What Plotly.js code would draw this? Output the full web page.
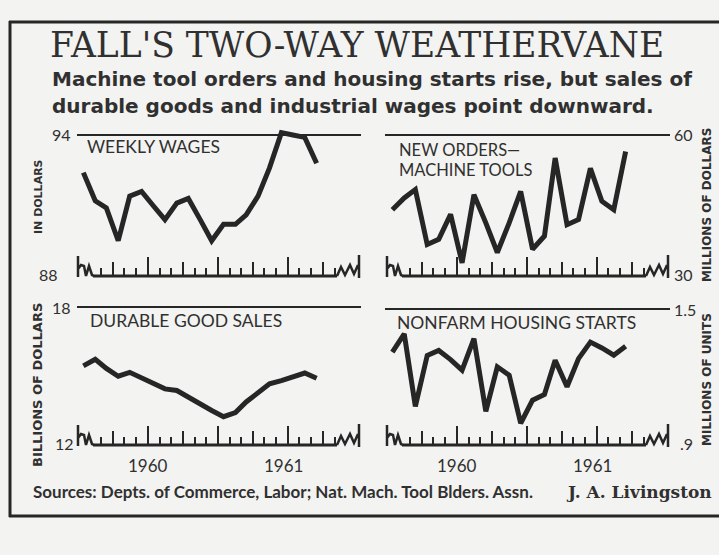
<!DOCTYPE html>
<html><head><meta charset="utf-8">
<script src="https://cdn.plot.ly/plotly-3.0.1.min.js"></script>
<style>html,body{margin:0;padding:0;background:#f3f3f1}</style>
</head><body><div id="chart" style="width:719px;height:555px"></div>
<script>
// ---- data (monthly, Jan 1960 - Sep 1961) ----
const months = ['1960-01-15','1960-02-15','1960-03-15','1960-04-15','1960-05-15','1960-06-15','1960-07-15','1960-08-15','1960-09-15','1960-10-15','1960-11-15','1960-12-15',
  '1961-01-15','1961-02-15','1961-03-15','1961-04-15','1961-05-15','1961-06-15','1961-07-15','1961-08-15','1961-09-15'];
const weeklyWages = [92.4, 91.2, 90.9, 89.5, 91.4, 91.6, 91.0, 90.4, 91.1, 91.3, 90.4, 89.5, 90.2, 90.2, 90.6, 91.4, 92.6, 94.1, 94.0, 93.9, 92.8];
const machineToolOrders = [44.1, 46.6, 48.4, 36.7, 37.8, 43.1, 32.8, 47.3, 41.3, 35.0, 41.3, 48.0, 35.7, 38.5, 55.1, 40.9, 42.0, 52.9, 45.9, 44.1, 56.5];
const durableSales = [15.44, 15.73, 15.33, 14.99, 15.16, 14.90, 14.64, 14.44, 14.37, 14.07, 13.79, 13.50, 13.23, 13.41, 13.87, 14.30, 14.66, 14.80, 14.94, 15.13, 14.90];
const housingStarts = [1.31, 1.39, 1.07, 1.295, 1.317, 1.277, 1.23, 1.369, 1.048, 1.245, 1.208, 0.996, 1.098, 1.123, 1.274, 1.157, 1.281, 1.354, 1.328, 1.296, 1.336];

const panelTitles = [['WEEKLY WAGES'], ['NEW ORDERS—', 'MACHINE TOOLS'], ['DURABLE GOOD SALES'], ['NONFARM HOUSING STARTS']];
const axisTitles = ['IN DOLLARS', 'MILLIONS OF DOLLARS', 'BILLIONS OF DOLLARS', 'MILLIONS OF UNITS'];
const lowLabels = ['88', '30', '12', '.9'];
const highLabels = ['94', '60', '18', '1.5'];
const lows = [88, 30, 12, 0.9];
const highs = [94, 60, 18, 1.5];
const yearLabels = ['1960', '1961'];
const yearPos = ['1960-07-01', '1961-06-20'];

const series = [weeklyWages, machineToolOrders, durableSales, housingStarts];

// ---- layout geometry (pixels) ----
const W = 719, H = 555;
const px = x => x / W, py = y => 1 - y / H;
const ink = '#262626', txt = '#303030';
// hx/lx: pixel x of label box edge (right edge for left panels, left edge for right panels)
const geo = [
  {x0: 78, x1: 358, base: 276, top: 135, side: 'left', tx: 7, ty: [147], tfs: 17.5, at: [39, 197, 11], hx: 73, lx: 60},
  {x0: 387, x1: 667, base: 276, top: 135, side: 'right', tx: 10, ty: [150, 170], tfs: 16.5, at: [707, 205, 12], hx: 672, lx: 672},
  {x0: 78, x1: 358, base: 445, top: 307, side: 'left', tx: 10, ty: [320], tfs: 17.5, at: [37, 385, 13], hx: 73, lx: 76},
  {x0: 387, x1: 667, base: 445, top: 309, side: 'right', tx: 8, ty: [322], tfs: 17.5, at: [707, 380, 12], hx: 672, lx: 678}
];

const monthTicks = [];
for (let y = 1960; y <= 1961; y++) for (let m = 1; m <= 12; m++) {
  if ((y === 1960 && m <= 2) || (y === 1961 && m === 12)) continue;
  monthTicks.push(y + '-' + String(m).padStart(2, '0') + '-01');
}
const quarterTicks = ['1960-04-01', '1960-10-01', '1961-04-01', '1961-10-01'];
const halfTicks = ['1960-07-01', '1961-01-01', '1961-07-01'];

const layout = {
  width: W, height: H, margin: {l: 0, r: 0, t: 0, b: 0},
  paper_bgcolor: '#f3f3f1', plot_bgcolor: 'rgba(0,0,0,0)',
  showlegend: false, shapes: [], annotations: []
};
const traces = [];
const padTop = 16;

geo.forEach((g, k) => {
  const i = k + 1;
  const lo = lows[k], hi = highs[k];
  const vpp = (hi - lo) / (g.base - g.top);
  const xa = i === 1 ? 'xaxis' : 'xaxis' + i;
  const ya = i === 1 ? 'yaxis' : 'yaxis' + i;
  const xr = i === 1 ? 'x' : 'x' + i;
  const yr = i === 1 ? 'y' : 'y' + i;
  layout[xa] = {
    type: 'date', domain: [px(g.x0), px(g.x1)], range: ['1960-01-01', '1962-01-01'],
    anchor: yr, showgrid: false, zeroline: false, showline: false, showticklabels: false,
    ticks: 'inside', tickmode: 'array', tickvals: quarterTicks, ticklen: 14, tickwidth: 2, tickcolor: ink,
    minor: {tickmode: 'array', tickvals: monthTicks, ticks: 'inside', ticklen: 8, tickwidth: 2, tickcolor: ink, showgrid: false},
    fixedrange: true
  };
  layout['xaxis' + (i + 4)] = {
    type: 'date', domain: [px(g.x0), px(g.x1)], range: ['1960-01-01', '1962-01-01'],
    overlaying: xr, anchor: yr, showgrid: false, zeroline: false, showline: false, showticklabels: false,
    ticks: 'inside', tickmode: 'array', tickvals: halfTicks, ticklen: 19, tickwidth: 2, tickcolor: ink, fixedrange: true
  };
  layout[ya] = {
    domain: [py(g.base), py(g.top - padTop)], range: [lo, hi + padTop * vpp],
    anchor: xr, showgrid: false, zeroline: false, showline: false, showticklabels: false, ticks: '', fixedrange: true
  };
  traces.push({type: 'scatter', mode: 'lines', x: months, y: series[k], xaxis: xr, yaxis: yr,
    line: {color: ink, width: 5}, hoverinfo: 'skip'});
  traces.push({type: 'scatter', mode: 'lines', x: [months[0]], y: [lo], xaxis: 'x' + (i + 4), yaxis: yr,
    line: {color: 'rgba(0,0,0,0)', width: 0}, hoverinfo: 'skip'});

  // top reference line
  const tl = g.side === 'left' ? [g.x0 - 1, g.x1 + 3] : [g.x0 - 2, g.x1 + 3];
  layout.shapes.push({type: 'line', xref: 'paper', yref: yr, x0: px(tl[0]), x1: px(tl[1]), y0: hi, y1: hi,
    line: {color: ink, width: 2}});
  // baseline
  const b = g.base;
  layout.shapes.push({type: 'line', xref: 'paper', yref: 'paper', x0: px(g.x0 + 15), x1: px(g.x1 - 21), y0: py(b), y1: py(b),
    line: {color: ink, width: 3}});
  // break marks
  const P = (pts) => pts.map(p => p[0] + ' ' + px(p[1]) + ' ' + py(p[2])).join(' ');
  const L = g.x0, R = g.x1;
  const leftBreak = P([['M', L, b - 20], ['L', L, b + 1], ['M', L, b - 7], ['L', L + 3, b - 11], ['L', L + 6, b - 10], ['L', L + 8, b],
    ['L', L + 11, b - 10], ['L', L + 14, b - 1], ['L', L + 16, b]]);
  const rightBreak = P([['M', R - 21, b], ['L', R - 17, b - 9], ['L', R - 13, b - 1], ['L', R - 8, b - 11], ['L', R - 4, b - 2], ['L', R, b - 11],
    ['M', R + 1, b - 21], ['L', R + 1, b + 2]]);
  layout.shapes.push({type: 'path', xref: 'paper', yref: 'paper', path: leftBreak, line: {color: ink, width: 2.5}});
  layout.shapes.push({type: 'path', xref: 'paper', yref: 'paper', path: rightBreak, line: {color: ink, width: 2.5}});

  // panel title lines
  panelTitles[k].forEach((t, j) => {
    layout.annotations.push({text: t, xref: 'paper', yref: 'paper', x: px(g.x0 + g.tx), y: py(g.ty[j]),
      xanchor: 'left', yanchor: 'middle', align: 'left', showarrow: false,
      font: {family: 'Lato', size: g.tfs, color: txt}});
  });
  // tick labels and axis title
  const tf = {family: 'Lato', size: 16, color: txt};
  const anc = g.side === 'left' ? 'right' : 'left';
  layout.annotations.push({text: highLabels[k], xref: 'paper', yref: 'paper', x: px(g.hx), y: py(g.top), xanchor: anc, yanchor: 'middle', showarrow: false, font: tf});
  layout.annotations.push({text: lowLabels[k], xref: 'paper', yref: 'paper', x: px(g.lx), y: py(g.base - 2), xanchor: anc, yanchor: 'middle', showarrow: false, font: tf});
  layout.annotations.push({text: axisTitles[k], xref: 'paper', yref: 'paper', x: px(g.at[0]), y: py(g.at[1]), xanchor: 'center', yanchor: 'middle',
    textangle: -90, showarrow: false, font: {family: 'DejaVu Sans', size: g.at[2], color: txt, weight: 'bold'}});
  // year labels under bottom panels
  if (k >= 2) {
    yearLabels.forEach((t, j) => {
      layout.annotations.push({text: t, xref: xr, yref: 'paper', x: yearPos[j], y: py(465), xanchor: 'center', yanchor: 'middle',
        showarrow: false, font: {family: 'Lato', size: 17, color: txt}});
    });
  }
});

// frame
layout.shapes.push({type: 'line', xref: 'paper', yref: 'paper', x0: px(9), x1: 1, y0: py(22), y1: py(22), line: {color: ink, width: 3}});
layout.shapes.push({type: 'line', xref: 'paper', yref: 'paper', x0: px(10), x1: px(10), y0: py(21), y1: py(517), line: {color: ink, width: 3}});
layout.shapes.push({type: 'line', xref: 'paper', yref: 'paper', x0: px(9), x1: 1, y0: py(516), y1: py(516), line: {color: ink, width: 3}});

// titles
layout.annotations.push({text: "FALL'S TWO-WAY WEATHERVANE", xref: 'paper', yref: 'paper', x: px(48), y: py(45), xanchor: 'left', yanchor: 'middle',
  showarrow: false, font: {family: 'DejaVu Serif', size: 34.5, color: txt}});
layout.annotations.push({text: 'Machine tool orders and housing starts rise, but sales of', xref: 'paper', yref: 'paper', x: px(50), y: py(79), xanchor: 'left', yanchor: 'middle',
  showarrow: false, font: {family: 'DejaVu Sans', size: 20, color: txt, weight: 'bold'}});
layout.annotations.push({text: 'durable goods and industrial wages point downward.', xref: 'paper', yref: 'paper', x: px(50), y: py(106), xanchor: 'left', yanchor: 'middle',
  showarrow: false, font: {family: 'DejaVu Sans', size: 20, color: txt, weight: 'bold'}});
layout.annotations.push({text: 'Sources: Depts. of Commerce, Labor; Nat. Mach. Tool Blders. Assn.', xref: 'paper', yref: 'paper', x: px(31), y: py(491), xanchor: 'left', yanchor: 'middle',
  showarrow: false, font: {family: 'Lato', size: 17, color: txt, weight: 'bold'}});
layout.annotations.push({text: 'J. A. Livingston', xref: 'paper', yref: 'paper', x: px(714), y: py(492), xanchor: 'right', yanchor: 'middle',
  showarrow: false, font: {family: 'DejaVu Serif', size: 17, color: txt, weight: 'bold'}});

Plotly.newPlot('chart', traces, layout, {staticPlot: true, displayModeBar: false});
</script>
</body></html>
